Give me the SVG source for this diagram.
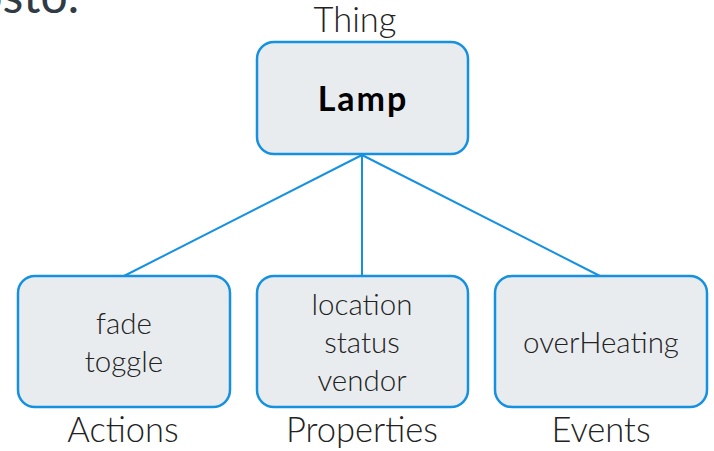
<svg xmlns="http://www.w3.org/2000/svg" width="714" height="451" viewBox="0 0 714 451">
  <style>
    .box { fill: #e9ecef; stroke: #1591e0; stroke-width: 2.5; }
    .edge { stroke: #1591e0; stroke-width: 2; fill: none; }
    .lbl { font-family: "Source Sans Pro", Lato, "Open Sans", "Liberation Sans", sans-serif; font-weight: 300; fill: #222; text-anchor: middle; }
    .item { font-size: 29.5px; }
    .cap { font-size: 34.5px; }
    .title { font-family: Lato, "Liberation Sans", sans-serif; font-weight: 700; font-size: 34px; letter-spacing: 2px; fill: #000; text-anchor: middle; }
  </style>
  <rect width="714" height="451" fill="#ffffff"/>
  <!-- clipped heading fragment at top-left -->
  <text x="79" y="13" font-family="Lato, 'Liberation Sans', sans-serif" font-size="48" fill="#2f3b45" text-anchor="end">osto.</text>

  <g id="connectors">
    <line class="edge" x1="362" y1="155" x2="124" y2="276"/>
    <line class="edge" x1="362" y1="155" x2="362" y2="276"/>
    <line class="edge" x1="362" y1="155" x2="600" y2="276"/>
  </g>

  <g id="thing">
    <text class="lbl cap" x="355" y="32">Thing</text>
    <rect class="box" x="257" y="42" width="211" height="112" rx="17"/>
    <text class="title" x="363" y="111">Lamp</text>
  </g>

  <g id="actions">
    <rect class="box" x="18" y="276" width="212" height="131" rx="17"/>
    <text class="lbl item" x="124" y="334">fade</text>
    <text class="lbl item" x="124" y="372">toggle</text>
    <text class="lbl cap" x="123" y="442">Actions</text>
  </g>

  <g id="properties">
    <rect class="box" x="257" y="276" width="211" height="131" rx="17"/>
    <text class="lbl item" x="362" y="315">location</text>
    <text class="lbl item" x="362" y="353">status</text>
    <text class="lbl item" x="362" y="391">vendor</text>
    <text class="lbl cap" x="362" y="442">Properties</text>
  </g>

  <g id="events">
    <rect class="box" x="495" y="276" width="212" height="131" rx="17"/>
    <text class="lbl item" x="601" y="353">overHeating</text>
    <text class="lbl cap" x="601" y="442">Events</text>
  </g>
</svg>
